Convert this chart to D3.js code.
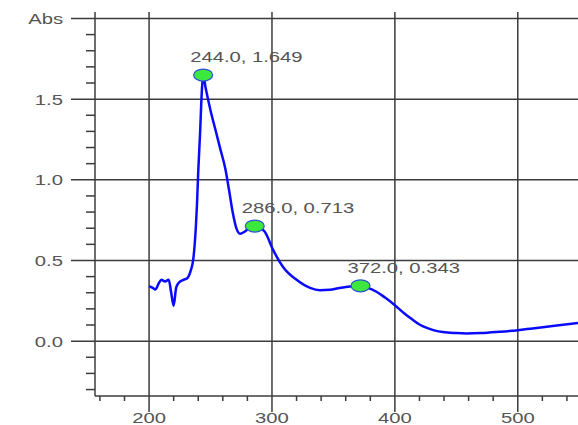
<!DOCTYPE html>
<html>
<head>
<meta charset="utf-8">
<script src="https://cdn.jsdelivr.net/npm/d3@7"></script>
<style>
  body { margin: 0; background: #fff; }
  text { font-family: "Liberation Sans", Arial, sans-serif; fill: #555; }
</style>
</head>
<body>
<div id="chart"></div>
<script>
// spectrum data
const wavelength = [200, 203, 205, 208, 210, 213, 216, 218, 220, 222, 224, 228, 231, 234, 236, 238, 239, 240, 241.5, 243, 244,
  246, 250, 254, 258, 262, 265, 268, 271, 274, 278, 282, 286, 290, 294, 301, 309, 320, 331, 339, 347, 355, 365, 372,
  378, 385, 392, 400, 408, 414, 420, 426, 432, 439, 450, 458, 470, 485, 500, 512, 530, 549];
const absorbance = [0.34, 0.33, 0.32, 0.36, 0.38, 0.37, 0.38, 0.30, 0.22, 0.33, 0.36, 0.38, 0.39, 0.44, 0.51, 0.70, 0.85, 1.05, 1.29, 1.56, 1.649,
  1.57, 1.43, 1.31, 1.19, 1.07, 0.94, 0.80, 0.70, 0.665, 0.68, 0.705, 0.713, 0.70, 0.68, 0.564, 0.46, 0.38, 0.33, 0.316, 0.318, 0.33, 0.34, 0.343,
  0.33, 0.306, 0.27, 0.223, 0.17, 0.135, 0.103, 0.082, 0.067, 0.056, 0.050, 0.048, 0.05, 0.058, 0.068, 0.079, 0.095, 0.113];

const peakX = [244.0, 286.0, 372.0];
const peakY = [1.649, 0.713, 0.343];

const xMajor = [200, 300, 400, 500];
const yMajor = [0.0, 0.5, 1.0, 1.5, 2.0];
const yLabels = ["0.0", "0.5", "1.0", "1.5", "Abs"];

const W = 578, H = 425;
const stretch = 1.35; // text in the picture is wider than tall

const x = d3.scaleLinear().domain([156, 549]).range([95, 578]);
const y = d3.scaleLinear().domain([-0.34, 2.04]).range([396, 12]);

const svg = d3.select("#chart").append("svg")
    .attr("width", W)
    .attr("height", H);

const gridColor = "#3c3c3c";

// horizontal grid lines (with major tick to the left)
svg.append("g")
    .selectAll("line")
    .data(yMajor)
    .enter()
    .append("line")
    .attr("x1", 71)
    .attr("x2", W)
    .attr("y1", d => y(d))
    .attr("y2", d => y(d))
    .attr("stroke", gridColor)
    .attr("stroke-width", 1.5);

// vertical grid lines (with major tick below)
svg.append("g")
    .selectAll("line")
    .data(xMajor)
    .enter()
    .append("line")
    .attr("x1", d => x(d))
    .attr("x2", d => x(d))
    .attr("y1", 12)
    .attr("y2", 412)
    .attr("stroke", gridColor)
    .attr("stroke-width", 1.5);

// axis lines
svg.append("line")
    .attr("x1", 95).attr("x2", 95)
    .attr("y1", 12).attr("y2", 396)
    .attr("stroke", gridColor).attr("stroke-width", 1.5);
svg.append("line")
    .attr("x1", 95).attr("x2", W)
    .attr("y1", 396).attr("y2", 396)
    .attr("stroke", gridColor).attr("stroke-width", 1.5);

// minor ticks
const yMinor = d3.range(-3, 20).map(i => i / 10).filter(v => Math.abs(v * 2 - Math.round(v * 2)) > 1e-6);
svg.append("g")
    .selectAll("line")
    .data(yMinor)
    .enter()
    .append("line")
    .attr("x1", 86).attr("x2", 95)
    .attr("y1", d => y(d)).attr("y2", d => y(d))
    .attr("stroke", gridColor).attr("stroke-width", 1.5);

const xMinor = d3.range(160, 560, 20).filter(v => v % 100 !== 0);
svg.append("g")
    .selectAll("line")
    .data(xMinor)
    .enter()
    .append("line")
    .attr("x1", d => x(d)).attr("x2", d => x(d))
    .attr("y1", 396).attr("y2", 401)
    .attr("stroke", gridColor).attr("stroke-width", 1.5);

// helper for horizontally stretched text
function label(px, py, str, anchor) {
    svg.append("g")
        .attr("transform", `translate(${px},${py}) scale(${stretch},1)`)
        .append("text")
        .attr("text-anchor", anchor)
        .style("font-size", "15px")
        .text(str);
}

// y tick labels
yMajor.forEach((v, i) => label(63, y(v) + 5.5, yLabels[i], "end"));

// x tick labels
xMajor.forEach(v => label(x(v), 423, String(v), "middle"));

// spectrum line
const line = d3.line()
    .x((d, i) => x(wavelength[i]))
    .y(d => y(d))
    .curve(d3.curveMonotoneX);

svg.append("path")
    .datum(absorbance)
    .attr("fill", "none")
    .attr("stroke", "#0a0aff")
    .attr("stroke-width", 2.5)
    .attr("stroke-linejoin", "round")
    .attr("d", line);

// peak markers
svg.append("g")
    .selectAll("ellipse")
    .data(peakX)
    .enter()
    .append("ellipse")
    .attr("cx", d => x(d))
    .attr("cy", (d, i) => y(peakY[i]))
    .attr("rx", 9.5)
    .attr("ry", 6)
    .attr("fill", "#3de83d")
    .attr("stroke", "#2b4fd6")
    .attr("stroke-width", 1.2);

// peak labels
peakX.forEach((v, i) => {
    label(x(v) - 13, y(peakY[i]) - 13, `${v.toFixed(1)}, ${peakY[i].toFixed(3)}`, "start");
});
</script>
</body>
</html>
